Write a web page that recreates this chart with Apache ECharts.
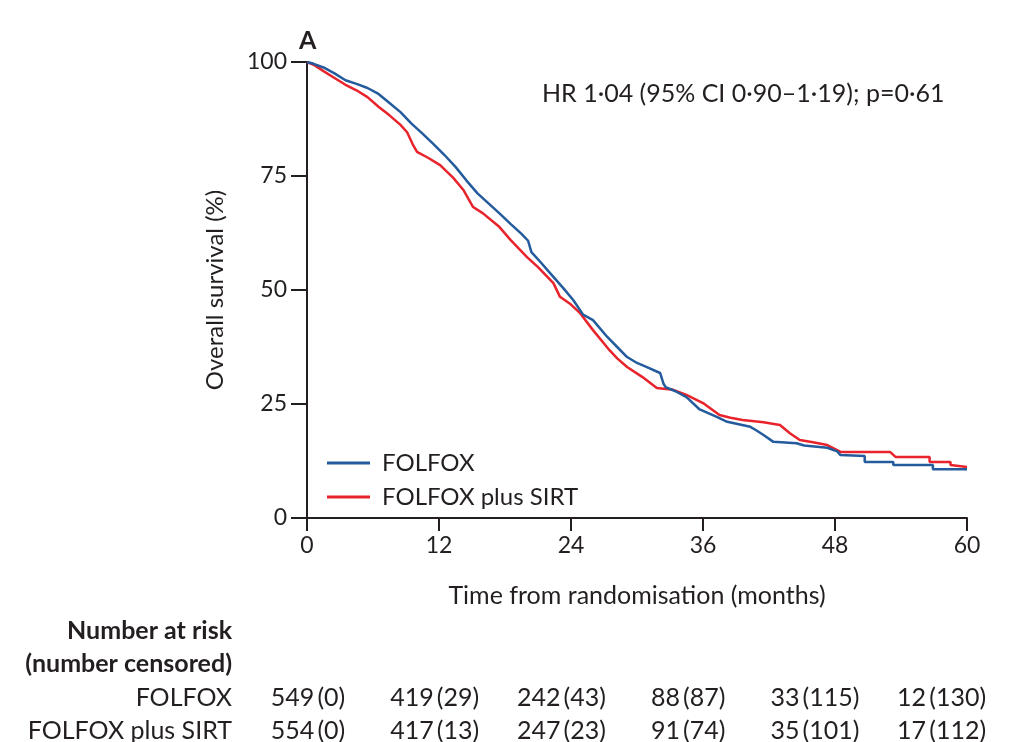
<!DOCTYPE html>
<html>
<head>
<meta charset="utf-8">
<title>Overall survival</title>
<script src="https://cdn.jsdelivr.net/npm/echarts@6.0.0/dist/echarts.min.js"></script>
<style>
  html, body { margin: 0; padding: 0; background: #fff; }
  #chart { width: 1009px; height: 742px; }
</style>
</head>
<body>
<div id="chart"></div>
<script>
// [months, overall survival %]
const folfox = [
  [0, 100], [0.6, 99.6], [1.5, 98.8], [2.5, 97.5], [3.5, 96], [4.5, 95.2], [5.5, 94.3],
  [6.5, 93], [7.5, 91], [8.5, 89], [9.5, 86.5], [10.5, 84.3], [11.5, 82], [12.5, 79.6],
  [13.5, 77], [14.5, 74], [15.5, 71.2], [16.5, 69], [17.5, 66.8], [18.5, 64.5], [19.5, 62.3],
  [20.1, 60.8], [20.4, 58.3], [21.2, 56.2], [22.1, 53.7], [23.3, 50.4], [24.2, 47.8],
  [25.1, 44.6], [26, 43.4], [27.3, 39.7], [28.2, 37.5], [29.1, 35.3], [30, 34], [30.9, 33.1],
  [32.1, 31.8], [32.4, 29.5], [32.6, 28.7], [33.5, 27.8], [34.5, 26.5], [35.7, 23.8],
  [37.3, 22.1], [38.2, 21.1], [40.3, 20], [40.8, 19.3], [41.5, 18.2], [42.4, 16.7],
  [44.5, 16.4], [45.2, 15.9], [47.3, 15.4], [48.2, 14.6], [48.5, 13.8], [50.7, 13.6],
  [50.7, 12.3], [53.3, 12.3], [53.3, 11.6], [56.9, 11.6], [56.9, 10.7], [60, 10.7]
]
const folfoxSirt = [
  [0, 100], [0.6, 99.4], [1.5, 98], [2.5, 96.5], [3.5, 95], [4.5, 93.8], [5.5, 92.3],
  [6.5, 90.2], [7.5, 88.3], [8.5, 86.2], [9.1, 84.6], [9.6, 82], [10, 80.3], [11, 79],
  [12.1, 77.4], [13.3, 74.6], [14.2, 72], [15.1, 68.2], [16, 66.8], [17.5, 63.8], [18.5, 61],
  [20, 57.2], [21, 55], [22.4, 51.5], [23, 48.5], [24, 46.8], [24.8, 45], [26, 41.2],
  [27.5, 36.8], [28.2, 35], [29.1, 33.1], [30.5, 30.9], [31.8, 28.5], [33.3, 28.1],
  [34.5, 27], [36, 25.2], [37.5, 22.6], [38.5, 22], [39.6, 21.5], [41.5, 21], [43, 20.4],
  [43.9, 18.6], [44.8, 17.1], [46, 16.6], [47.3, 16], [48.5, 14.5], [53, 14.5], [53.5, 13.4],
  [56.6, 13.4], [56.6, 12.3], [58.5, 12.3], [58.5, 11.6], [60, 11.2]
]
const seriesNames = ['FOLFOX', 'FOLFOX plus SIRT']
const riskTimes = [0, 12, 24, 36, 48, 60]
const riskFolfox = ['549\u2009(0)', '419\u2009(29)', '242\u2009(43)', '88\u2009(87)', '33\u2009(115)', '12\u2009(130)']
const riskSirt = ['554\u2009(0)', '417\u2009(13)', '247\u2009(23)', '91\u2009(74)', '35\u2009(101)', '17\u2009(112)']

const font = 'Lato, "Open Sans", sans-serif'
const ink = '#231f20'
const blue = '#245b9c'
const red = '#e8232b'

const chart = echarts.init(document.getElementById('chart'))

const tickText = { color: ink, fontSize: 23, fontFamily: font }
const nameText = { color: ink, fontSize: 25, fontFamily: font }

chart.setOption({
  animation: false,
  grid: { left: 307, right: 42, top: 62, bottom: 224 },
  xAxis: {
    type: 'value',
    min: 0,
    max: 60,
    interval: 12,
    axisLine: { lineStyle: { color: ink, width: 2 } },
    axisTick: { length: 13, lineStyle: { color: ink, width: 2 } },
    axisLabel: Object.assign({ margin: 16 }, tickText),
    splitLine: { show: false },
    name: 'Time from randomisation (months)',
    nameLocation: 'middle',
    nameGap: 65,
    nameTextStyle: nameText
  },
  yAxis: {
    type: 'value',
    min: 0,
    max: 100,
    interval: 25,
    axisLine: { show: true, lineStyle: { color: ink, width: 2 } },
    axisTick: { show: true, length: 16, lineStyle: { color: ink, width: 2 } },
    axisLabel: Object.assign({ margin: 20 }, tickText),
    splitLine: { show: false },
    name: 'Overall survival (%)',
    nameLocation: 'middle',
    nameGap: 80,
    nameTextStyle: { color: ink, fontSize: 24, fontFamily: font }
  },
  legend: {
    orient: 'vertical',
    left: 322,
    top: 446,
    icon: 'rect',
    itemWidth: 43,
    itemHeight: 3,
    itemGap: 10,
    textStyle: { color: ink, fontSize: 24, fontFamily: font, padding: [0, 0, 0, 7] },
    data: seriesNames
  },
  series: [
    {
      name: seriesNames[0],
      type: 'line',
      data: folfox,
      symbol: 'none',
      lineStyle: { color: blue, width: 2.5 },
      itemStyle: { color: blue },
      z: 3
    },
    {
      name: seriesNames[1],
      type: 'line',
      data: folfoxSirt,
      symbol: 'none',
      lineStyle: { color: red, width: 2.5 },
      itemStyle: { color: red },
      z: 2
    }
  ]
})

// number-at-risk table and annotations
const x0 = chart.convertToPixel({ xAxisIndex: 0 }, riskTimes[0])
const x60 = chart.convertToPixel({ xAxisIndex: 0 }, riskTimes[riskTimes.length - 1])
const colStep = (x60 - x0) * 0.96 / (riskTimes.length - 1)
const textEl = (text, x, y, align, size, weight) => ({
  type: 'text',
  x: x,
  y: y,
  style: {
    text: text,
    fill: ink,
    font: (weight || 'normal') + ' ' + size + 'px ' + font,
    textAlign: align,
    textVerticalAlign: 'middle'
  }
})
const labelRight = 232
const graphic = [
  textEl('A', 299, 41, 'left', 25, 'bold'),
  textEl('HR 1·04 (95% CI 0·90–1·19); p=0·61', 542, 94, 'left', 25),
  textEl('Number at risk', labelRight, 631, 'right', 25, 'bold'),
  textEl('(number censored)', labelRight, 664, 'right', 25, 'bold'),
  textEl(seriesNames[0], labelRight, 698, 'right', 25),
  textEl(seriesNames[1], labelRight, 731, 'right', 25)
]
riskTimes.forEach((t, i) => {
  const cx = x0 + 1 + colStep * i
  graphic.push(textEl(riskFolfox[i], cx, 698, 'center', 25))
  graphic.push(textEl(riskSirt[i], cx, 731, 'center', 25))
})
chart.setOption({ graphic: graphic })
</script>
</body>
</html>
